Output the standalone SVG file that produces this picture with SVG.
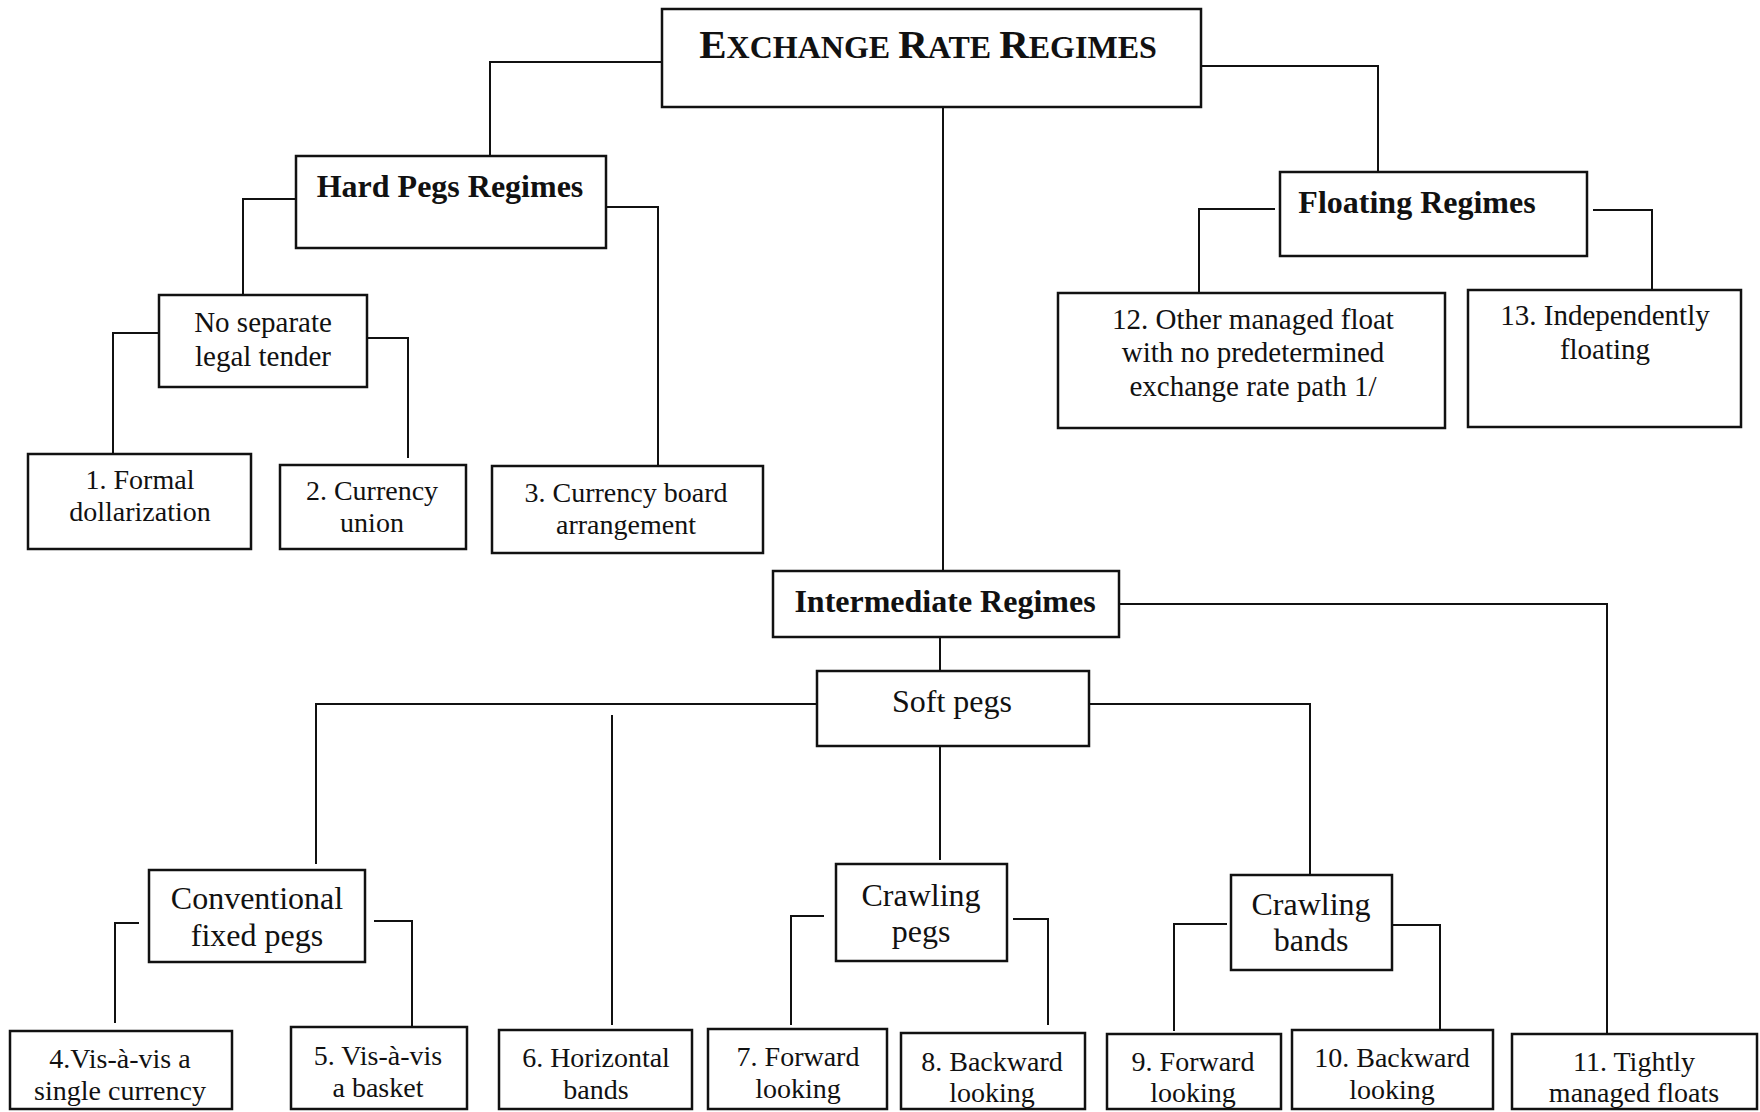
<svg xmlns="http://www.w3.org/2000/svg" width="1760" height="1112" viewBox="0 0 1760 1112">
<style>
.bg{fill:#fff}
.box{fill:#fff;stroke:#111;stroke-width:2.5}
.conn path{fill:none;stroke:#111;stroke-width:2}
text{font-family:"Liberation Serif","Times New Roman",serif;fill:#111;text-anchor:middle}
.b{font-weight:bold;font-size:32px}
.m{font-size:32px}
.n{font-size:29px}
.s{font-size:28px}
</style>
<rect class="bg" x="0" y="0" width="1760" height="1112"/>
<g class="conn" id="connectors">
<path d="M662 62H490V156"/>
<path d="M1201 66H1378V171"/>
<path d="M943 108V571"/>
<path d="M296 199H243V295"/>
<path d="M606 207H658V466"/>
<path d="M159 333H113V454"/>
<path d="M368 338H408V458"/>
<path d="M1275 209H1199V293"/>
<path d="M1593 210H1652V298"/>
<path d="M940 638V671"/>
<path d="M1119 604H1607V1034"/>
<path d="M817 704H316V864"/>
<path d="M612 715V1025"/>
<path d="M940 746V860"/>
<path d="M1090 704H1310V874"/>
<path d="M139 923H115V1023"/>
<path d="M374 921H412V1027"/>
<path d="M824 916H791V1025"/>
<path d="M1013 919H1048V1025"/>
<path d="M1227 924H1174V1031"/>
<path d="M1393 925H1440V1030"/>
</g>
<g id="title">
<rect class="box" x="662" y="9" width="539" height="98"/>
<text x="928" y="58" font-weight="bold"><tspan font-size="41">E</tspan><tspan font-size="32">XCHANGE </tspan><tspan font-size="41">R</tspan><tspan font-size="32">ATE </tspan><tspan font-size="41">R</tspan><tspan font-size="32">EGIMES</tspan></text>
</g>
<g id="hard-pegs">
<rect class="box" x="296" y="156" width="310" height="92"/>
<text class="b" x="450" y="197">Hard Pegs Regimes</text>
</g>
<g id="no-separate">
<rect class="box" x="159" y="295" width="208" height="92"/>
<text class="n" x="263" y="332">No separate</text>
<text class="n" x="263" y="366">legal tender</text>
</g>
<g id="n1">
<rect class="box" x="28" y="454" width="223" height="95"/>
<text class="s" x="140" y="489">1. Formal</text>
<text class="s" x="140" y="521">dollarization</text>
</g>
<g id="n2">
<rect class="box" x="280" y="465" width="186" height="84"/>
<text class="s" x="372" y="500">2. Currency</text>
<text class="s" x="372" y="532">union</text>
</g>
<g id="n3">
<rect class="box" x="492" y="466" width="271" height="87"/>
<text class="s" x="626" y="502">3. Currency board</text>
<text class="s" x="626" y="534">arrangement</text>
</g>
<g id="floating">
<rect class="box" x="1280" y="172" width="307" height="84"/>
<text class="b" x="1417" y="213">Floating Regimes</text>
</g>
<g id="n12">
<rect class="box" x="1058" y="293" width="387" height="135"/>
<text class="n" x="1253" y="329">12. Other managed float</text>
<text class="n" x="1253" y="362">with no predetermined</text>
<text class="n" x="1253" y="396">exchange rate path 1/</text>
</g>
<g id="n13">
<rect class="box" x="1468" y="290" width="273" height="137"/>
<text class="n" x="1605" y="325">13. Independently</text>
<text class="n" x="1605" y="359">floating</text>
</g>
<g id="intermediate">
<rect class="box" x="773" y="571" width="346" height="66"/>
<text class="b" x="945" y="612">Intermediate Regimes</text>
</g>
<g id="soft-pegs">
<rect class="box" x="817" y="671" width="272" height="75"/>
<text class="m" x="952" y="712">Soft pegs</text>
</g>
<g id="conventional">
<rect class="box" x="149" y="870" width="216" height="92"/>
<text class="m" x="257" y="909">Conventional</text>
<text class="m" x="257" y="946">fixed pegs</text>
</g>
<g id="crawling-pegs">
<rect class="box" x="836" y="864" width="171" height="97"/>
<text class="m" x="921" y="906">Crawling</text>
<text class="m" x="921" y="942">pegs</text>
</g>
<g id="crawling-bands">
<rect class="box" x="1231" y="875" width="161" height="95"/>
<text class="m" x="1311" y="915">Crawling</text>
<text class="m" x="1311" y="951">bands</text>
</g>
<g id="n4">
<rect class="box" x="10" y="1031" width="222" height="78"/>
<text class="s" x="120" y="1068">4.Vis-à-vis a</text>
<text class="s" x="120" y="1100">single currency</text>
</g>
<g id="n5">
<rect class="box" x="291" y="1027" width="176" height="82"/>
<text class="s" x="378" y="1065">5. Vis-à-vis</text>
<text class="s" x="378" y="1097">a basket</text>
</g>
<g id="n6">
<rect class="box" x="499" y="1030" width="193" height="79"/>
<text class="s" x="596" y="1067">6. Horizontal</text>
<text class="s" x="596" y="1099">bands</text>
</g>
<g id="n7">
<rect class="box" x="708" y="1029" width="179" height="80"/>
<text class="s" x="798" y="1066">7. Forward</text>
<text class="s" x="798" y="1098">looking</text>
</g>
<g id="n8">
<rect class="box" x="901" y="1033" width="184" height="76"/>
<text class="s" x="992" y="1071">8. Backward</text>
<text class="s" x="992" y="1102">looking</text>
</g>
<g id="n9">
<rect class="box" x="1107" y="1034" width="174" height="75"/>
<text class="s" x="1193" y="1071">9. Forward</text>
<text class="s" x="1193" y="1102">looking</text>
</g>
<g id="n10">
<rect class="box" x="1292" y="1030" width="201" height="79"/>
<text class="s" x="1392" y="1067">10. Backward</text>
<text class="s" x="1392" y="1099">looking</text>
</g>
<g id="n11">
<rect class="box" x="1512" y="1034" width="245" height="75"/>
<text class="s" x="1634" y="1071">11. Tightly</text>
<text class="s" x="1634" y="1102">managed floats</text>
</g>
</svg>
